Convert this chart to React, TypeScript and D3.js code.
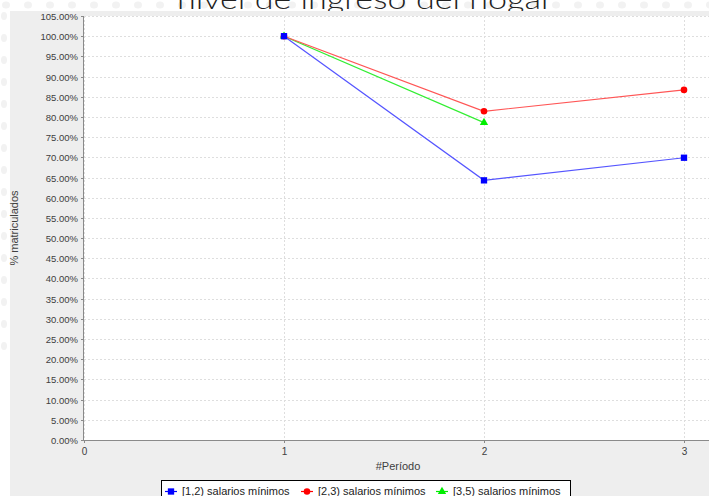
import { useEffect, useRef } from "react"
import * as d3 from "d3"

const periods = [1, 2, 3]
const seriesNames = ["[1,2) salarios mínimos", "[2,3) salarios mínimos", "[3,5) salarios mínimos"]
const blueValues = [100, 64.3, 69.9]
const redValues = [100, 81.4, 86.7]
const greenValues = [100, 78.6]
const yTicks = d3.range(0, 106, 5)
const xTicks = [0, 1, 2, 3]

const W = 709
const H = 496

export default function App() {
  const svgRef = useRef<SVGSVGElement>(null)

  useEffect(() => {
    if (!svgRef.current) return
    const svg = d3.select(svgRef.current)
    svg.selectAll("*").remove()

    const font = "'Liberation Sans', Arial, sans-serif"
    const plot = { left: 84, top: 16, right: 709, bottom: 440 }

    // faded slide background
    svg.append("rect").attr("width", W).attr("height", H).attr("fill", "#fff")
    const deco = svg.append("g").attr("fill", "#f2f2f2")
    d3.range(0, W, 22).forEach((x) => {
      deco.append("ellipse").attr("cx", x + 6).attr("cy", 5).attr("rx", 4).attr("ry", 3.5)
    })
    d3.range(16, 360, 22).forEach((y) => {
      deco.append("ellipse").attr("cx", 4).attr("cy", y).attr("rx", 3).attr("ry", 4)
    })

    // title (cut off at top, as in the slide)
    svg.append("text")
      .attr("x", 365)
      .attr("y", 9)
      .attr("text-anchor", "middle")
      .attr("font-family", "Lato, 'Open Sans', sans-serif")
      .attr("font-weight", 300)
      .attr("font-size", 27)
      .attr("fill", "#222")
      .attr("textLength", 376)
      .attr("lengthAdjust", "spacingAndGlyphs")
      .text("nivel de ingreso del hogar")

    // chart panel
    svg.append("rect").attr("x", 10).attr("y", 11).attr("width", W - 10).attr("height", H - 11).attr("fill", "#eeeeee")
    svg.append("rect")
      .attr("x", plot.left).attr("y", plot.top)
      .attr("width", plot.right - plot.left).attr("height", plot.bottom - plot.top)
      .attr("fill", "#fff")

    const x = d3.scaleLinear().domain([0, 3.125]).range([plot.left, plot.right])
    const y = d3.scaleLinear().domain([0, 105]).range([plot.bottom, plot.top])

    // grid
    const grid = svg.append("g").attr("stroke", "#dedede").attr("stroke-dasharray", "2,2").attr("stroke-width", 1)
    yTicks.forEach((t) => {
      grid.append("line")
        .attr("x1", plot.left).attr("x2", plot.right)
        .attr("y1", Math.round(y(t)) + 0.5).attr("y2", Math.round(y(t)) + 0.5)
    })
    xTicks.forEach((t) => {
      grid.append("line")
        .attr("x1", Math.round(x(t)) + 0.5).attr("x2", Math.round(x(t)) + 0.5)
        .attr("y1", plot.top).attr("y2", plot.bottom)
    })

    // axes
    const axisColor = "#8a8a8a"
    svg.append("line").attr("x1", plot.left - 0.5).attr("x2", plot.left - 0.5)
      .attr("y1", plot.top).attr("y2", plot.bottom + 1).attr("stroke", axisColor)
    svg.append("line").attr("x1", plot.left).attr("x2", plot.right)
      .attr("y1", plot.bottom + 0.5).attr("y2", plot.bottom + 0.5).attr("stroke", axisColor)

    yTicks.forEach((t) => {
      const yy = Math.round(y(t)) + 0.5
      svg.append("line").attr("x1", plot.left - 3).attr("x2", plot.left).attr("y1", yy).attr("y2", yy).attr("stroke", axisColor)
      svg.append("text")
        .attr("x", plot.left - 6)
        .attr("y", yy + 3.5)
        .attr("text-anchor", "end")
        .attr("font-family", font)
        .attr("font-size", 9.5)
        .attr("fill", "#404040")
        .text(d3.format(".2f")(t) + "%")
    })
    xTicks.forEach((t) => {
      const xx = Math.round(x(t)) + 0.5
      svg.append("line").attr("x1", xx).attr("x2", xx).attr("y1", plot.bottom).attr("y2", plot.bottom + 3).attr("stroke", axisColor)
      svg.append("text")
        .attr("x", xx)
        .attr("y", plot.bottom + 15)
        .attr("text-anchor", "middle")
        .attr("font-family", font)
        .attr("font-size", 10)
        .attr("fill", "#404040")
        .text(t)
    })

    svg.append("text")
      .attr("x", 398)
      .attr("y", 470)
      .attr("text-anchor", "middle")
      .attr("font-family", font)
      .attr("font-size", 11)
      .attr("fill", "#404040")
      .text("#Período")

    svg.append("text")
      .attr("transform", `translate(18, ${(plot.top + plot.bottom) / 2}) rotate(-90)`)
      .attr("text-anchor", "middle")
      .attr("font-family", font)
      .attr("font-size", 11)
      .attr("fill", "#404040")
      .text("% matriculados")

    // series
    const series = [
      { name: seriesNames[0], values: blueValues, line: "#5555ff", mark: "#0000ff", shape: d3.symbolSquare, size: 40 },
      { name: seriesNames[1], values: redValues, line: "#ff5555", mark: "#ff0000", shape: d3.symbolCircle, size: 34 },
      { name: seriesNames[2], values: greenValues, line: "#33ee33", mark: "#00ee00", shape: d3.symbolTriangle, size: 30 },
    ]

    const lineGen = d3.line<number>()
      .x((_, i) => x(periods[i]))
      .y((d) => y(d))

    series.slice().reverse().forEach((s) => {
      svg.append("path")
        .datum(s.values)
        .attr("d", lineGen)
        .attr("fill", "none")
        .attr("stroke", s.line)
        .attr("stroke-width", 1.2)
      s.values.forEach((v, i) => {
        svg.append("path")
          .attr("d", d3.symbol().type(s.shape).size(s.size)())
          .attr("transform", `translate(${x(periods[i])}, ${y(v)})`)
          .attr("fill", s.mark)
      })
    })

    // legend
    const legendX = [165, 301, 436]
    svg.append("rect")
      .attr("x", 161.5).attr("y", 480.5)
      .attr("width", 409).attr("height", 30)
      .attr("fill", "#fff").attr("stroke", "#000")
    series.forEach((s, i) => {
      const lx = legendX[i]
      svg.append("line").attr("x1", lx).attr("x2", lx + 12).attr("y1", 491.5).attr("y2", 491.5).attr("stroke", s.mark).attr("stroke-width", 1.2)
      svg.append("path")
        .attr("d", d3.symbol().type(s.shape).size(s.size)())
        .attr("transform", `translate(${lx + 6}, 491.5)`)
        .attr("fill", s.mark)
      svg.append("text")
        .attr("x", lx + 17)
        .attr("y", 494.5)
        .attr("font-family", font)
        .attr("font-size", 11)
        .attr("fill", "#222")
        .text(s.name)
    })
  }, [])

  return (
    <svg
      ref={svgRef}
      width={W}
      height={H}
      style={{ position: "absolute", left: 0, top: 0, display: "block" }}
    />
  )
}
